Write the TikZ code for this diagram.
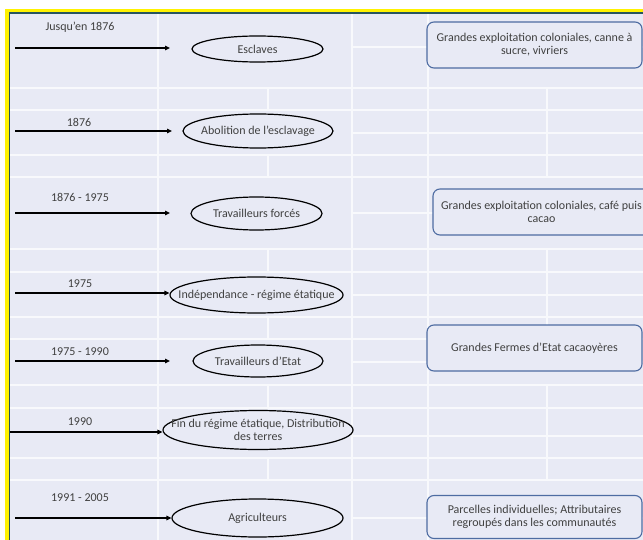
\documentclass[tikz,border=0pt]{standalone}
\usepackage{fontspec}
\setmainfont{Carlito}
\usetikzlibrary{shapes.geometric,arrows.meta}

\definecolor{cellbg}{RGB}{232,234,245}
\definecolor{cellrule}{RGB}{248,249,252}
\definecolor{framey}{RGB}{255,242,0}
\definecolor{frameteal}{RGB}{40,85,95}
\definecolor{boxblue}{RGB}{78,108,162}
\definecolor{txt}{RGB}{64,64,64}

\tikzset{
  basefont/.style={font=\fontsize{12bp}{13bp}\selectfont, text=txt},
  gridline/.style={draw=cellrule, line width=1.3bp},
  stage/.style={ellipse, draw=black, line width=1.2bp, fill=cellbg, inner sep=0pt},
  stagetext/.style={basefont, align=center},
  datelabel/.style={basefont, inner sep=0pt},
  infobox/.style={rectangle, rounded corners=7bp, draw=boxblue, line width=1.1bp,
    fill=cellbg, basefont, align=center, inner sep=0pt,
    minimum width=215bp, minimum height=46bp},
  flow/.style={draw=black, line width=1.5bp, -{Triangle[length=5bp,width=4.5bp]}}
}

\begin{document}
\begin{tikzpicture}[x=1bp,y=-1bp]
\useasboundingbox (0,0) rectangle (643,540);
\clip (0,0) rectangle (643,540);

% page background and table cells
\fill[white] (0,0) rectangle (643,540);
\fill[cellbg] (10,13) rectangle (643,540);

% table rules
\foreach \yy in {88,110,155,177,249,272,317,339,385,408,458,480}
  \draw[gridline] (10,\yy) -- (643,\yy);
\foreach \yy in {47,133,213,295,362,436,518}
  \draw[gridline] (352,\yy) -- (643,\yy);
\foreach \xx in {158,352,428}
  \draw[gridline] (\xx,13) -- (\xx,540);
\foreach \ya/\yb in {88/110,155/177,249/272,317/339,385/408,458/480}
  \draw[gridline] (268,\ya) -- (268,\yb);
\foreach \ya/\yb in {88/177,249/339,385/480}
  \draw[gridline] (547,\ya) -- (547,\yb);

% frame
\draw[framey, line width=3.5bp] (6.75,540) -- (6.75,10.8) -- (643,10.8);
\draw[frameteal, line width=1.5bp] (9.6,540) -- (9.6,12.9) -- (643,12.9);

% stages
\node[stage, minimum width=131bp, minimum height=26bp,
  label={[stagetext]center:Esclaves}] (s1) at (257.5,49) {};
\node[stage, minimum width=150bp, minimum height=34bp,
  label={[stagetext]center:Abolition de l'esclavage}] (s2) at (258,131) {};
\node[stage, minimum width=131bp, minimum height=33bp,
  label={[stagetext]center:Travailleurs forcés}] (s3) at (256.5,213.5) {};
\node[stage, minimum width=173bp, minimum height=36bp,
  label={[stagetext]center:Indépendance - régime étatique}] (s4) at (256.5,295) {};
\node[stage, minimum width=130bp, minimum height=32bp,
  label={[stagetext]center:Travailleurs d'Etat}] (s5) at (258,361) {};
\node[stage, minimum width=190bp, minimum height=39bp,
  label={[stagetext]center:{Fin du régime étatique, Distribution\\des terres}}] (s6) at (258,430) {};
\node[stage, minimum width=171bp, minimum height=38bp,
  label={[stagetext]center:Agriculteurs}] (s7) at (257.5,518) {};

% dates
\node[datelabel] (d1) at (80,27) {Jusqu'en 1876};
\node[datelabel] (d2) at (79,122) {1876};
\node[datelabel] (d3) at (80,197) {1876 - 1975};
\node[datelabel] (d4) at (80,284) {1975};
\node[datelabel] (d5) at (80,352) {1975 - 1990};
\node[datelabel] (d6) at (80,422) {1990};
\node[datelabel] (d7) at (80,498) {1991 - 2005};

% arrow ends
\coordinate (a1) at (15,48);   \coordinate (b1) at (170,48);
\coordinate (a2) at (15,131);  \coordinate (b2) at (172,131);
\coordinate (a3) at (15,213);  \coordinate (b3) at (170,213);
\coordinate (a4) at (15,293);
\coordinate (a5) at (15,361);  \coordinate (b5) at (170,361);
\coordinate (a6) at (10,432);
\coordinate (a7) at (15,518);

\draw[flow] (a1) -- (b1);
\draw[flow] (a2) -- (b2);
\draw[flow] (a3) -- (b3);
\draw[flow] (a4) -- (s4.west |- a4);
\draw[flow] (a5) -- (b5);
\draw[flow] (a6) -- (s6.west |- a6);
\draw[flow] (a7) -- (s7.west);

% production systems
\node[infobox] (p1) at (534.5,45)
  {Grandes exploitation coloniales, canne à\\sucre, vivriers};
\node[infobox, minimum width=217bp] (p2) at (541.5,212)
  {Grandes exploitation coloniales, café puis\\cacao};
\node[infobox] (p3) at (534.5,348) {Grandes Fermes d'Etat cacaoyères};
\node[infobox, minimum height=43bp] (p4) at (534.5,517)
  {Parcelles individuelles; Attributaires\\regroupés dans les communautés};
\end{tikzpicture}
\end{document}
